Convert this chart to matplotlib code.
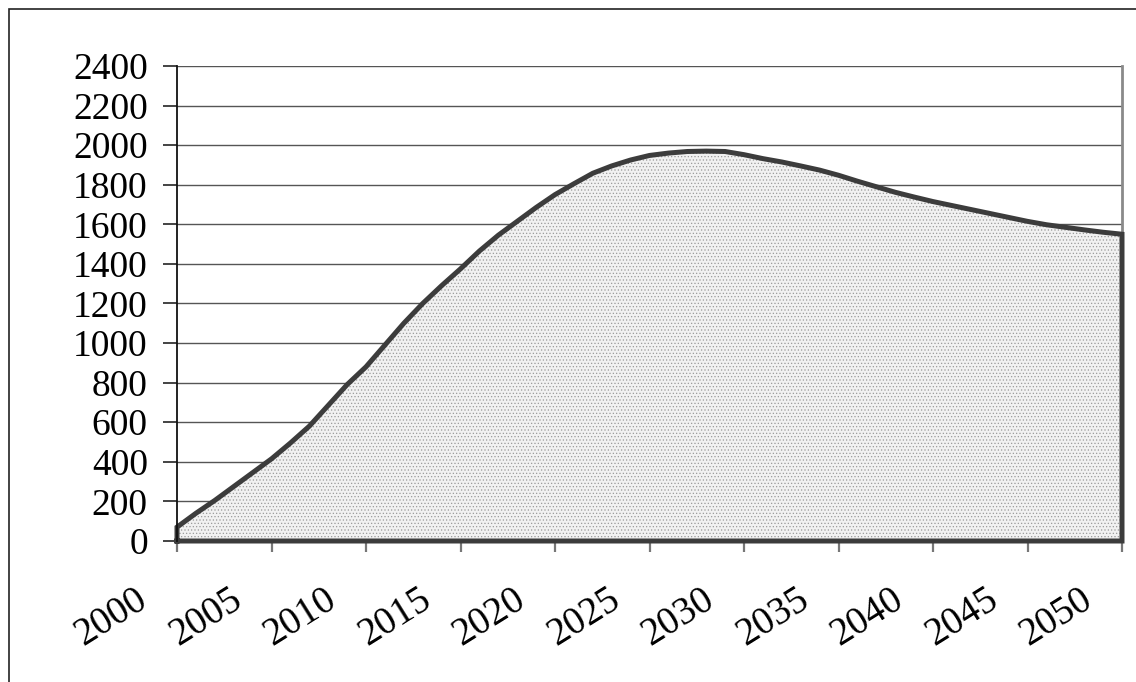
import matplotlib
matplotlib.use("Agg")
import matplotlib.pyplot as plt
from matplotlib.patches import Rectangle
from matplotlib.transforms import ScaledTranslation
import numpy as np

years = list(range(2000, 2051))
values = [70, 140, 205, 275, 345, 415, 495, 580, 685, 790,
          880, 990, 1100, 1200, 1290, 1375, 1465, 1545, 1615, 1685,
          1750, 1805, 1858, 1895, 1925, 1948, 1960, 1968, 1970, 1968,
          1952, 1932, 1915, 1895, 1874, 1848, 1818, 1790, 1762, 1738,
          1715, 1695, 1675, 1655, 1635, 1615, 1598, 1585, 1572, 1560,
          1550]
xticks = list(range(2000, 2051, 5))
yticks = list(range(0, 2401, 200))

plt.rcParams['font.family'] = ['Liberation Serif', 'DejaVu Serif']
plt.rcParams['hatch.color'] = '#9a9a9a'
plt.rcParams['hatch.linewidth'] = 0.5

fig = plt.figure(figsize=(11.36, 6.82), dpi=100)
ax = fig.add_axes([177/1136, 1-541/682, (1122-177)/1136, (541-66)/682])

ax.fill_between(years, values, 0, facecolor='#f1f1f1', linewidth=0, hatch='.....', zorder=2)
xs = [years[0]] + years + [years[-1], years[0]]
ys = [0] + values + [0, 0]
ax.plot(xs, ys, color='#3c3c3c', lw=3.6, solid_joinstyle='miter', zorder=3, clip_on=False)

ax.set_xlim(2000, 2050)
ax.set_ylim(0, 2400)
ax.set_yticks(yticks)
ax.set_xticks(xticks)
ax.set_xticklabels([str(t) for t in xticks])
ax.grid(axis='y', color='#555555', lw=1.0, zorder=1)
ax.set_axisbelow(True)

ax.spines['top'].set_visible(False)
ax.spines['left'].set_color('#111111')
ax.spines['left'].set_linewidth(1.3)
ax.spines['left'].set_zorder(4)
ax.spines['right'].set_color('#8a8a8a')
ax.spines['right'].set_linewidth(2)
ax.spines['bottom'].set_color('#3c3c3c')
ax.spines['bottom'].set_linewidth(1.5)

ax.tick_params(axis='y', direction='out', length=10, width=1.1, color='#111111',
               labelsize=27, pad=11)
ax.tick_params(axis='x', direction='out', length=8, width=1.6, color='#777777',
               labelsize=28, pad=21)
off = ScaledTranslation(-0.23, 0, fig.dpi_scale_trans)
for lab in ax.get_xticklabels():
    lab.set_rotation(32)
    lab.set_ha('right')
    lab.set_va('top')
    lab.set_transform(lab.get_transform() + off)

border = Rectangle((9/1136, -0.05), 1.2, 0.05 + 1 - 9/682, transform=fig.transFigure,
                   fill=False, edgecolor='#222222', lw=1.2)
fig.add_artist(border)

fig.savefig('out.png', dpi=100)
